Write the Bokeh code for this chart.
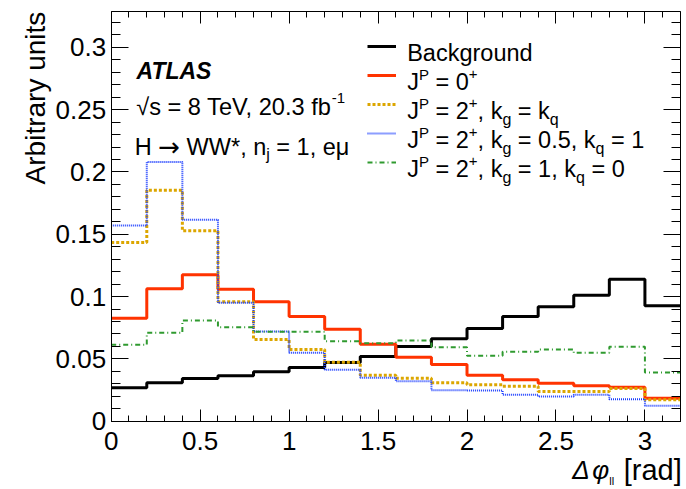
import math
from bokeh.plotting import figure
from bokeh.models import (Range1d, LinearAxis, SingleIntervalTicker, CustomJSTickFormatter,
                          Label, Legend, LegendItem)
from bokeh.core.properties import value
from bokeh.embed import file_html
from bokeh.resources import INLINE

# ---------------- data ----------------
BIN_EDGES = [0.0, 0.2, 0.4, 0.6, 0.8, 1.0, 1.2, 1.4, 1.6, 1.8, 2.0, 2.2, 2.4, 2.6, 2.8, 3.0, 3.2]
BACKGROUND = [0.0268, 0.0308, 0.0343, 0.0364, 0.0396, 0.0431, 0.0472, 0.0519,
              0.0600, 0.0661, 0.0744, 0.0840, 0.0918, 0.1011, 0.1140, 0.0926]
SPIN0_PLUS = [0.0827, 0.1062, 0.1175, 0.1059, 0.0958, 0.0840, 0.0737, 0.0618,
              0.0514, 0.0455, 0.0369, 0.0332, 0.0305, 0.0284, 0.0273, 0.0185]
SPIN2_KG_EQ_KQ = [0.1434, 0.1854, 0.1528, 0.0958, 0.0656, 0.0575, 0.0474, 0.0369,
                  0.0345, 0.0308, 0.0292, 0.0281, 0.0238, 0.0238, 0.0262, 0.0172]
SPIN2_KG05_KQ1 = [0.1570, 0.2080, 0.1616, 0.0950, 0.0720, 0.0549, 0.0412, 0.0348,
                  0.0321, 0.0249, 0.0246, 0.0212, 0.0198, 0.0212, 0.0177, 0.0124]
SPIN2_KG1_KQ0 = [0.0613, 0.0709, 0.0808, 0.0754, 0.0717, 0.0717, 0.0641, 0.0626,
                 0.0648, 0.0594, 0.0525, 0.0557, 0.0575, 0.0549, 0.0597, 0.0391]

X_MIN, X_MAX = 0.0, 3.2
Y_MIN, Y_MAX = 0.0, 0.329

FONT = "Liberation Sans"

# ---------------- layout geometry (canvas pixels) ----------------
CW, CH = 686, 489                 # canvas size
FL, FT, FW, FH = 110.7, 10.7, 569.3, 410.0   # drawn ROOT-style frame inside canvas
sx = (X_MAX - X_MIN) / FW
sy = (Y_MAX - Y_MIN) / FH
x_range = Range1d(X_MIN - FL * sx, X_MAX + (CW - FL - FW) * sx)
y_range = Range1d(Y_MIN - (CH - FT - FH) * sy, Y_MAX + FT * sy)

p = figure(width=CW, height=CH, x_range=x_range, y_range=y_range,
           x_axis_type=None, y_axis_type=None,
           output_backend="svg", toolbar_location=None, min_border=0)
p.outline_line_color = None
p.background_fill_color = "white"
p.border_fill_color = "white"

fmt = CustomJSTickFormatter(code="return String(Math.round(tick*1000)/1000);")
blank = CustomJSTickFormatter(code="return '';")

xt = SingleIntervalTicker(interval=0.5, num_minor_ticks=5)
yt = SingleIntervalTicker(interval=0.05, num_minor_ticks=5)


def make_axis(ticker, loc, bounds, major_in, minor_in, labelled, standoff=6):
    ax = LinearAxis(ticker=ticker, formatter=fmt if labelled else blank,
                    fixed_location=loc, bounds=bounds)
    ax.major_tick_in = major_in
    ax.major_tick_out = 0
    ax.minor_tick_in = minor_in
    ax.minor_tick_out = 0
    ax.axis_line_color = "black"
    ax.major_tick_line_color = "black"
    ax.minor_tick_line_color = "black"
    ax.axis_line_width = 1
    if labelled:
        ax.major_label_text_font = FONT
        ax.major_label_text_font_size = "26px"
        ax.major_label_text_color = "black"
        ax.major_label_standoff = standoff
    else:
        ax.major_label_text_font_size = "0px"
        ax.major_label_standoff = 0
    return ax


p.add_layout(make_axis(xt, Y_MIN, (X_MIN, X_MAX), 12, 6, True, 11), "below")
p.add_layout(make_axis(yt, X_MIN, (Y_MIN, Y_MAX), 17, 9, True, 5), "left")
p.add_layout(make_axis(xt, Y_MAX, (X_MIN, X_MAX), 12, 6, False), "above")
p.add_layout(make_axis(yt, X_MAX, (Y_MIN, Y_MAX), 17, 9, False), "right")

# ---------------- histograms ----------------
series = [
    (BACKGROUND, "black", 3, "solid"),
    (SPIN0_PLUS, "#ff3300", 3, "solid"),
    (SPIN2_KG_EQ_KQ, "#dca600", 3, "3 2"),
    (SPIN2_KG05_KQ1, "#1a3cff", 2, "1 1"),
    (SPIN2_KG1_KQ0, "#2f9a2f", 2, "5 3 1 3"),
]
renderers = []
for vals, col, lw, dash in series:
    r = p.step(x=BIN_EDGES, y=list(vals) + [vals[-1]], mode="after",
               line_color=col, line_width=lw, line_dash=dash)
    renderers.append(r)

# legend samples (texts drawn separately for super/subscripts)
LEG_LINE_X = 366.7      # canvas px
LEG_FIRST_Y = 45.5      # canvas px of first sample line
LEG_PITCH = 29
n_items = len(renderers)
leg_bottom = LEG_FIRST_Y + (n_items - 1) * LEG_PITCH + 10
legend = Legend(items=[LegendItem(label=value(""), renderers=[r]) for r in renderers],
                location=(LEG_LINE_X, CH - leg_bottom), orientation="vertical",
                glyph_width=29, glyph_height=20, label_height=20, label_width=0,
                label_standoff=0, spacing=LEG_PITCH - 20, padding=0, margin=0,
                border_line_color=None, background_fill_alpha=0,
                label_text_font_size="1px")
p.add_layout(legend)

# ---------------- texts ----------------
W = {' ': 278, '*': 389, '+': 584, ',': 278, '-': 333, '.': 278, '=': 584,
     'A': 667, 'B': 667, 'H': 722, 'J': 500, 'P': 667, 'T': 611, 'V': 667, 'W': 944,
     'a': 556, 'b': 556, 'c': 500, 'd': 556, 'e': 556, 'f': 278, 'g': 556, 'i': 222,
     'j': 222, 'k': 500, 'l': 222, 'n': 556, 'o': 556, 'q': 556, 'r': 333, 's': 500,
     't': 278, 'u': 556, 'y': 500, 'μ': 576, '√': 549, '→': 1000, '[': 278, ']': 278}
W_DEJAVU = {'→': 838}


def tw(s, size, font=FONT):
    table = W_DEJAVU if font.startswith("DejaVu") else W
    return sum(table.get(c, W.get(c, 556)) for c in s) / 1000.0 * size


def put(text, dx, dy, size, style="normal", align="left", angle=0.0, font=FONT):
    # dx, dy: pixel offsets from the frame's top-left corner (right / down)
    p.add_layout(Label(x=X_MIN, y=Y_MAX, x_units="data", y_units="data",
                       x_offset=dx, y_offset=-dy, text=text, text_font=font,
                       text_font_size=f"{size}px", text_font_style=style,
                       text_color="black", text_align=align, text_baseline="alphabetic",
                       angle=angle))


def put_pieces(pieces, dx, dy):
    x = dx
    for piece in pieces:
        text, size, shift = piece[:3]
        font = piece[3] if len(piece) > 3 else FONT
        lead = len(text) - len(text.lstrip(" "))
        x += tw(" " * lead, size, FONT)
        body = text.strip(" ")
        if body:
            put(body, x, dy - shift, size, font=font)
        x += tw(text.lstrip(" "), size, font)


MAIN, SUP, SUB = 23.5, 15, 16
RAISE, LOWER = 8, -8

put("ATLAS", 25.3, 59.3, 23, "bold italic")
put("√s = 8 TeV, 20.3 fb", 25.0, 95.3, 23.6)
put("-1", 220.5, 86.3, SUP)
put_pieces([("H ", MAIN, 0), ("→", 26, 0, "DejaVu Sans"), (" WW*, n", MAIN, 0),
            ("j", SUB, LOWER), (" = 1, eμ", MAIN, 0)], 23.6, 135.3)

LEG_TEXT_X = 296.0
LEG_Y0 = 41.8
legend_rows = [
    [("Background", MAIN, 0)],
    [("J", MAIN, 0), ("P", SUP, RAISE), (" = 0", MAIN, 0), ("+", SUP, RAISE)],
    [("J", MAIN, 0), ("P", SUP, RAISE), (" = 2", MAIN, 0), ("+", SUP, RAISE),
     (", k", MAIN, 0), ("g", SUB, LOWER), (" = k", MAIN, 0), ("q", SUB, LOWER)],
    [("J", MAIN, 0), ("P", SUP, RAISE), (" = 2", MAIN, 0), ("+", SUP, RAISE),
     (", k", MAIN, 0), ("g", SUB, LOWER), (" = 0.5, k", MAIN, 0), ("q", SUB, LOWER), (" = 1", MAIN, 0)],
    [("J", MAIN, 0), ("P", SUP, RAISE), (" = 2", MAIN, 0), ("+", SUP, RAISE),
     (", k", MAIN, 0), ("g", SUB, LOWER), (" = 1, k", MAIN, 0), ("q", SUB, LOWER), (" = 0", MAIN, 0)],
]
for i, row in enumerate(legend_rows):
    put_pieces(row, LEG_TEXT_X, LEG_Y0 + i * LEG_PITCH)

# axis titles
put("Arbitrary units", -76.0, 0.5, 28, angle=math.pi / 2, align="right")
put("Δ", 461.0, 458.8, 26, "italic")
put("φ", 481.0, 458.8, 26, "italic")
put("ll", 498.0, 470.0, 11)
put("[rad]", 570.5, 458.8, 29, align="right")

open("out.html", "w").write(file_html(p, INLINE))
